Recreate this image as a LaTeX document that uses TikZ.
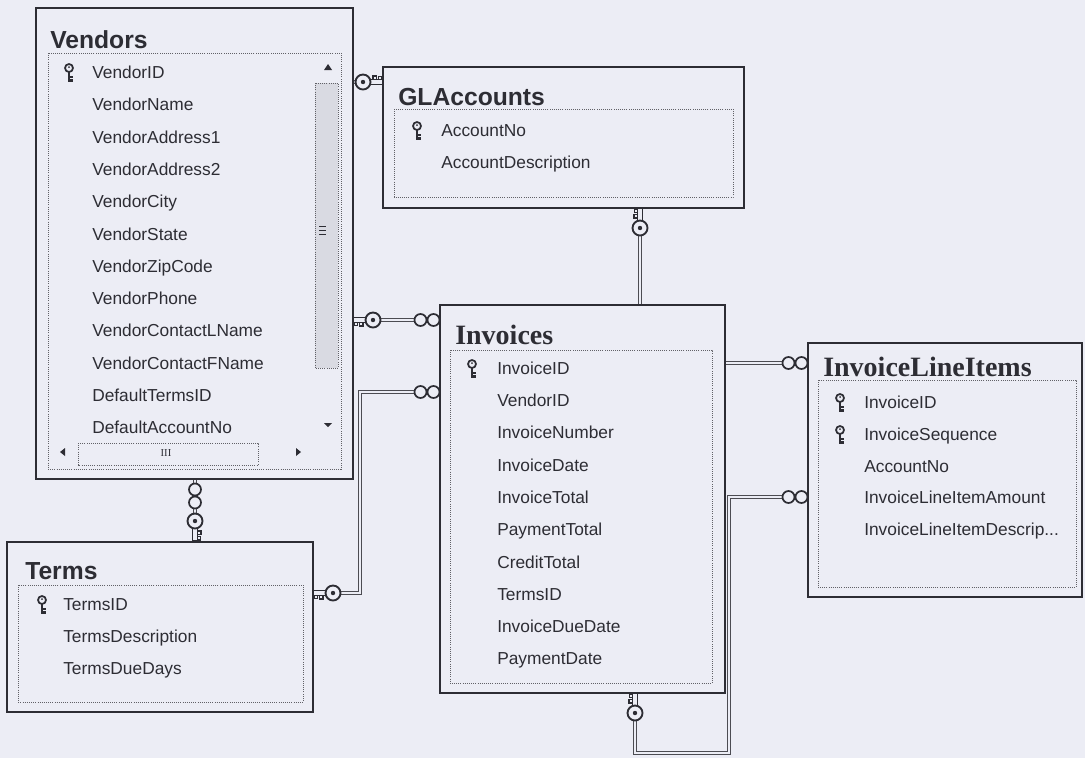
\documentclass[tikz,border=0pt]{standalone}
\usepackage{fontspec}
\newfontfamily\fieldfont{Liberation Sans}
\newfontfamily\serifbold{Liberation Serif}
\definecolor{paper}{RGB}{236,237,245}
\definecolor{ink}{RGB}{45,45,52}
\tikzset{
  outerbox/.style={draw=ink, line width=0.9pt, fill=paper},
  innerbox/.style={draw=ink!75, densely dotted, line width=0.6pt},
  field/.style={anchor=base west, inner sep=0pt, text=ink, font=\fieldfont\fontsize{13}{15}\selectfont},
  tabletitle/.style={anchor=base west, inner sep=0pt, text=ink, font=\fieldfont\bfseries\fontsize{18.5}{20}\selectfont},
  seriftitle/.style={anchor=base west, inner sep=0pt, text=ink, font=\serifbold\bfseries\fontsize{21}{23}\selectfont},
  rel/.style={draw=ink!85, line width=0.6pt, double=paper, double distance=2.2pt},
  pics/fkey/.style={code={
    \draw[ink, line width=1pt, fill=paper] (6,-2.5) -- (20,-2.5) -- (20,2.5) -- (6,2.5);
    \draw[ink, line width=1pt] (10,2.5) -- (10,6) -- (13.5,6) -- (13.5,2.5) (15.5,2.5) -- (15.5,5.5) -- (19,5.5) -- (19,2.5);
    \draw[ink, line width=1.4pt, fill=paper] (0,0) circle (7.5);
    \fill[ink] (0,0) circle (2.2);
  }},
  pics/many/.style={code={
    \draw[ink, line width=1.3pt, fill=paper] (-6.5,0) circle (6) (6.5,0) circle (6);
  }},
  pics/pkmark/.style={code={
    \draw[ink, line width=1.3pt] (0,10) circle (4);
    \fill[ink] (0,11) circle (1);
    \draw[ink, line width=1.6pt] (0,6) -- (0,-4) (0,1) -- (3.5,1) (0,-2.5) -- (3.5,-2.5);
  }},
}
\begin{document}
\begin{tikzpicture}[x=0.75pt,y=0.75pt,yscale=-1,xscale=1]
\useasboundingbox (0,0) rectangle (1085,758);
\fill[paper] (0,0) rectangle (1085,758);

% connector ends
\coordinate (vendGL) at (353,82);
\coordinate (glVend) at (383,82);
\coordinate (vendInv) at (353,320);
\coordinate (invVend) at (440,320);
\coordinate (termsInv) at (313,593);
\coordinate (invTerms) at (440,392);
\coordinate (glBot) at (640,208);
\coordinate (iliGL) at (808,363);
\coordinate (invBot) at (635,693);
\coordinate (loopCorner) at (729,753);
\coordinate (iliInv) at (808,497);
\coordinate (vendBot) at (195,479);
\coordinate (termsTop) at (195,541);

% Relationships
\draw[rel] (vendGL) -- (glVend);
\draw[rel] (vendInv) -- (invVend);
\draw[rel] (termsInv) -- ++(47,0) |- (invTerms);
\draw[rel] (glBot) |- (iliGL);
\draw[rel] (invBot) |- (loopCorner) |- (iliInv);
\draw[rel] (vendBot) -- (termsTop);

%Shape: Vendors
\draw[outerbox] (36,8) rectangle (353,479);
\draw[innerbox] (48,53) rectangle (341,469);
\draw[innerbox, fill=paper!90!ink] (315,83) rectangle (338,368);
\draw[ink, line width=0.5pt] (319,226) -- (326,226) (319,230) -- (326,230) (319,234) -- (326,234);
\fill[ink] (324,70) -- (332,70) -- (328,64) -- cycle;
\fill[ink] (324,423) -- (332,423) -- (328,427) -- cycle;
\draw[innerbox] (78,443) rectangle (258,465);
\fill[ink] (65,448) -- (65,456) -- (60,452) -- cycle;
\fill[ink] (296,448) -- (296,456) -- (301,452) -- cycle;
\node[inner sep=0pt, text=ink, font=\serifbold\fontsize{8}{8}\selectfont] (grip) at (166,453) {III};
% Text Node
\node[tabletitle] (vendTitle) at (50,48) {Vendors};
\pic at (69,78) {pkmark};
\node[field] (v1) at (92,78) {VendorID};
\node[field] (v2) at (92,110) {VendorName};
\node[field] (v3) at (92,143) {VendorAddress1};
\node[field] (v4) at (92,175) {VendorAddress2};
\node[field] (v5) at (92,207) {VendorCity};
\node[field] (v6) at (92,240) {VendorState};
\node[field] (v7) at (92,272) {VendorZipCode};
\node[field] (v8) at (92,304) {VendorPhone};
\node[field] (v9) at (92,336) {VendorContactLName};
\node[field] (v10) at (92,369) {VendorContactFName};
\node[field] (v11) at (92,401) {DefaultTermsID};
\node[field] (v12) at (92,433) {DefaultAccountNo};

%Shape: GLAccounts
\draw[outerbox] (383,67) rectangle (744,208);
\draw[innerbox] (394,109) rectangle (733,197);
% Text Node
\node[tabletitle] (glTitle) at (398,105) {GLAccounts};
\pic at (417,136) {pkmark};
\node[field] (g1) at (441,136) {AccountNo};
\node[field] (g2) at (441,168) {AccountDescription};

%Shape: Invoices
\draw[outerbox] (440,305) rectangle (725,693);
\draw[innerbox] (450,350) rectangle (712,683);
% Text Node
\node[seriftitle] (invTitle) at (455,344) {Invoices};
\pic at (472,374) {pkmark};
\node[field] (i1) at (497,374) {InvoiceID};
\node[field] (i2) at (497,406) {VendorID};
\node[field] (i3) at (497,438) {InvoiceNumber};
\node[field] (i4) at (497,471) {InvoiceDate};
\node[field] (i5) at (497,503) {InvoiceTotal};
\node[field] (i6) at (497,535) {PaymentTotal};
\node[field] (i7) at (497,568) {CreditTotal};
\node[field] (i8) at (497,600) {TermsID};
\node[field] (i9) at (497,632) {InvoiceDueDate};
\node[field] (i10) at (497,664) {PaymentDate};

%Shape: InvoiceLineItems
\draw[outerbox] (808,343) rectangle (1082,597);
\draw[innerbox] (818,380) rectangle (1076,587);
% Text Node
\node[seriftitle] (iliTitle) at (823,376) {InvoiceLineItems};
\pic at (840,408) {pkmark};
\pic at (840,440) {pkmark};
\node[field] (l1) at (864,408) {InvoiceID};
\node[field] (l2) at (864,440) {InvoiceSequence};
\node[field] (l3) at (864,472) {AccountNo};
\node[field] (l4) at (864,503) {InvoiceLineItemAmount};
\node[field] (l5) at (864,535) {InvoiceLineItemDescrip...};

%Shape: Terms
\draw[outerbox] (7,542) rectangle (313,712);
\draw[innerbox] (18,585) rectangle (303,702);
% Text Node
\node[tabletitle] (termsTitle) at (25,579) {Terms};
\pic at (42,610) {pkmark};
\node[field] (t1) at (63,610) {TermsID};
\node[field] (t2) at (63,642) {TermsDescription};
\node[field] (t3) at (63,674) {TermsDueDays};

% key and many ends
\pic at (363,82) {fkey};
\pic[rotate=180] at (373,320) {fkey};
\pic[rotate=180] at (333,593) {fkey};
\pic[rotate=90] at (640,228) {fkey};
\pic[rotate=90] at (635,713) {fkey};
\pic[rotate=-90] at (195,521) {fkey};
\pic at (427,320) {many};
\pic at (427,392) {many};
\pic at (795,363) {many};
\pic at (795,497) {many};
\pic[rotate=90] at (195,496) {many};

\end{tikzpicture}
\end{document}
